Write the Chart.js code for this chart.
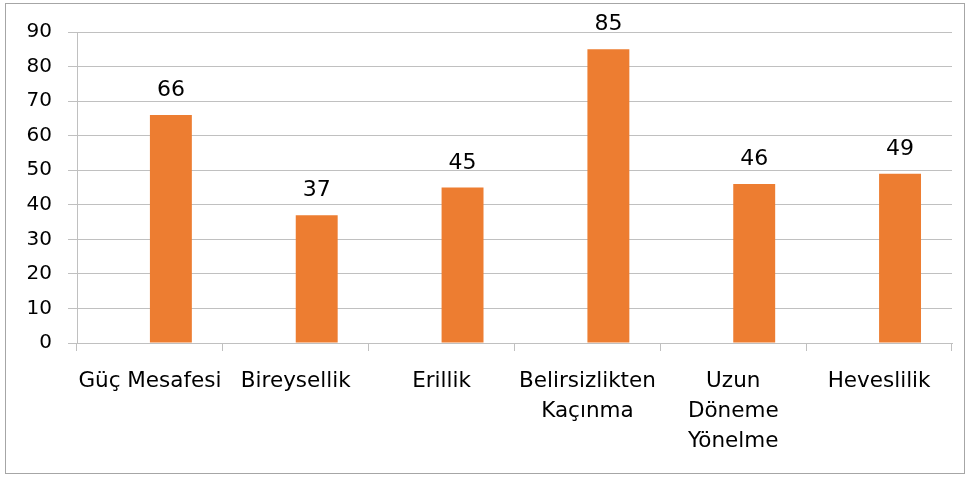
<!DOCTYPE html>
<html><head><meta charset="utf-8">
<script src="https://cdn.jsdelivr.net/npm/chart.js@4"></script>
<style>html,body{margin:0;padding:0;background:#fff}#wrap{position:relative;width:971px;height:478px}</style>
</head><body><div id="wrap"><canvas id="c" width="971" height="478"></canvas></div>
<script>
const categories = [
  ['Güç Mesafesi'],
  ['Bireysellik'],
  ['Erillik'],
  ['Belirsizlikten', 'Kaçınma'],
  ['Uzun', 'Döneme', 'Yönelme'],
  ['Heveslilik']
];
const seriesValues = [66, 37, 45, 85, 46, 49];
const emptySeries = [null, null, null, null, null, null];
const yTicks = [0, 10, 20, 30, 40, 50, 60, 70, 80, 90];

const FONT = 'DejaVu Sans';
const GRID = '#c0c0c0';

const frame = {
  id: 'frame',
  beforeDraw(chart) {
    const ctx = chart.ctx;
    ctx.save();
    ctx.fillStyle = '#fff';
    ctx.fillRect(0, 0, chart.width, chart.height);
    ctx.strokeStyle = '#a6a6a6';
    ctx.lineWidth = 1;
    ctx.strokeRect(5.5, 3.5, 959, 470);
    ctx.restore();
  }
};
const valueLabels = {
  id: 'valueLabels',
  afterDatasetsDraw(chart) {
    const ctx = chart.ctx;
    const meta = chart.getDatasetMeta(1);
    ctx.save();
    ctx.font = '22px "' + FONT + '"';
    ctx.fillStyle = '#000';
    ctx.textAlign = 'center';
    ctx.textBaseline = 'alphabetic';
    meta.data.forEach((bar, i) => {
      ctx.fillText(String(seriesValues[i]), bar.x, bar.y - 19);
    });
    ctx.restore();
  }
};

new Chart(document.getElementById('c'), {
  type: 'bar',
  data: {
    labels: categories,
    datasets: [
      { label: '', data: emptySeries, backgroundColor: 'rgba(0,0,0,0)' },
      { label: 'Seri', data: seriesValues, backgroundColor: '#ED7D31', borderWidth: 0 }
    ]
  },
  options: {
    responsive: false,
    animation: false,
    events: [],
    layout: { padding: { left: 0, right: 19, top: 32, bottom: 0 } },
    categoryPercentage: 0.575,
    barPercentage: 1,
    plugins: { legend: { display: false }, tooltip: { enabled: false } },
    scales: {
      x: {
        offset: true,
        grid: { display: true, drawOnChartArea: false, drawTicks: true, tickLength: 8, offset: true, color: GRID },
        border: { display: true, color: GRID },
        ticks: { color: '#000', font: { family: FONT, size: 21.5, lineHeight: 1.4 }, padding: 15, maxRotation: 0, autoSkip: false },
        afterFit(s) { s.height = 478 - 343; }
      },
      y: {
        min: 0, max: 90,
        afterBuildTicks(s) { s.ticks = yTicks.map(v => ({ value: v })); },
        grid: { color: GRID, tickLength: 9, drawTicks: true },
        border: { display: true, color: GRID },
        ticks: { color: '#000', font: { family: FONT, size: 20 }, padding: 16 },
        afterFit(s) { s.width = 77; }
      }
    }
  },
  plugins: [frame, valueLabels]
});
</script></body></html>
